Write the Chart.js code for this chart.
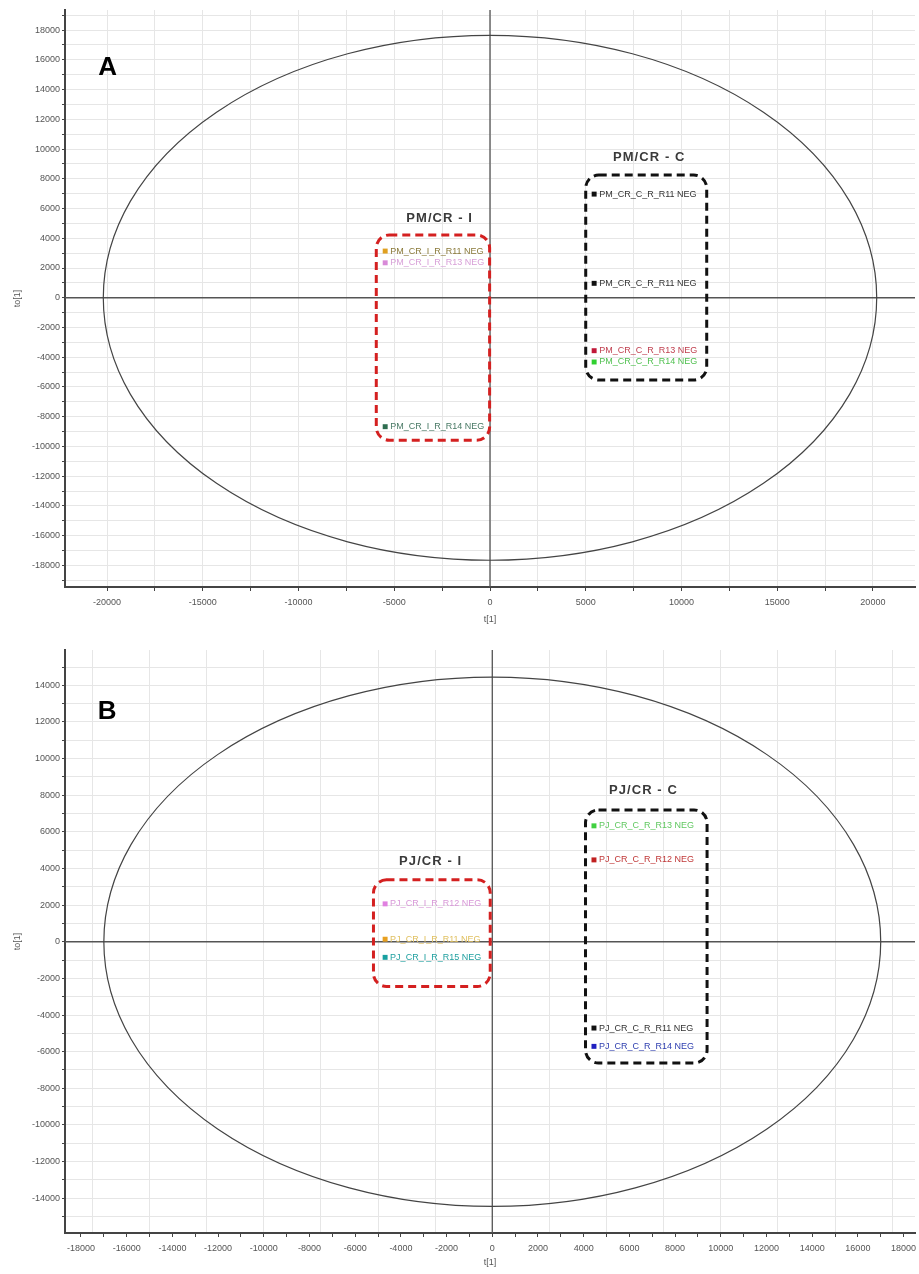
<!DOCTYPE html>
<html>
<head>
<meta charset="utf-8">
<title>OPLS-DA score plots</title>
<script src="https://cdn.jsdelivr.net/npm/chart.js@4.4.1/dist/chart.umd.min.js"></script>
<style>
body { margin: 0; background: #fff; }
canvas { position: absolute; left: 0; }
#chartA { top: 0; }
#chartB { top: 640px; }
</style>
</head>
<body>
<canvas id="chartA" width="919" height="630"></canvas>
<canvas id="chartB" width="919" height="634"></canvas>
<script>
const FONT = 'Arial, "Liberation Sans", sans-serif'

function steps(from, to, step) {
    const out = []
    for (let v = from; v <= to; v += step) out.push(v)
    return out
}

// panel A - PM/CR
const aNames = ['PM_CR_I_R_R11 NEG', 'PM_CR_I_R_R13 NEG', 'PM_CR_I_R_R14 NEG', 'PM_CR_C_R_R11 NEG', 'PM_CR_C_R_R11 NEG', 'PM_CR_C_R_R13 NEG', 'PM_CR_C_R_R14 NEG']
const aT = [-5475, -5475, -5475, 5440, 5440, 5440, 5440]
const aTo = [3140, 2350, -8670, 6970, 970, -3560, -4320]
const aXTicks = steps(-20000, 20000, 2500)
const aYTicks = steps(-19000, 19000, 1000)

// panel B - PJ/CR
const bNames = ['PJ_CR_I_R_R12 NEG', 'PJ_CR_I_R_R11 NEG', 'PJ_CR_I_R_R15 NEG', 'PJ_CR_C_R_R13 NEG', 'PJ_CR_C_R_R12 NEG', 'PJ_CR_C_R_R11 NEG', 'PJ_CR_C_R_R14 NEG']
const bT = [-4690, -4690, -4690, 4450, 4450, 4450, 4450]
const bTo = [2070, 140, -850, 6330, 4470, -4710, -5710]
const bXTicks = steps(-18500, 18500, 500)
const bYTicks = steps(-15000, 15000, 1000)

// Hotelling T2 ellipse half axes [t, to]
const aEllipse = [20200, 17650]
const bEllipse = [17000, 14450]

// group boxes [left, top, right, bottom] and their captions [text, t, to]
const aBoxes = [[-5940, 4220, -20, -9580], [5000, 8250, 11320, -5530]]
const aGroups = [['PM/CR - I', -2660, 5360], ['PM/CR - C', 8290, 9460]]
const bBoxes = [[-5200, 3380, -90, -2440], [4080, 7200, 9400, -6620]]
const bGroups = [['PJ/CR - I', -2720, 4380], ['PJ/CR - C', 6590, 8290]]

// styles
const aColors = ['#e0a020', '#d88ad8', '#2e6e50', '#111111', '#111111', '#c01838', '#30d030']
const aTextColors = ['#8a7a3a', '#d8a0d8', '#4a7a66', '#333333', '#333333', '#c04050', '#50c050']
const bColors = ['#e080e0', '#e8a020', '#18a0a0', '#40d040', '#c02020', '#111111', '#2020c0']
const bTextColors = ['#d898d8', '#e0c060', '#20a0a0', '#60c860', '#c03838', '#333333', '#3040b0']
const boxColors = ['#d42020', '#111111']

const pcaDecor = {
    id: 'pcaDecor',
    beforeDatasetsDraw(chart, args, opts) {
        const {ctx, chartArea, scales: {x, y}} = chart
        ctx.save()
        ctx.beginPath()
        ctx.rect(chartArea.left, chartArea.top, chartArea.width, chartArea.height)
        ctx.clip()
        const cx = x.getPixelForValue(0)
        const cy = y.getPixelForValue(0)
        // zero axes
        ctx.strokeStyle = '#555'
        ctx.lineWidth = 1.3
        ctx.beginPath()
        ctx.moveTo(cx, chartArea.top)
        ctx.lineTo(cx, chartArea.bottom)
        ctx.moveTo(chartArea.left, cy)
        ctx.lineTo(chartArea.right, cy)
        ctx.stroke()
        // ellipse
        const rx = x.getPixelForValue(opts.ellipse[0]) - cx
        const ry = cy - y.getPixelForValue(opts.ellipse[1])
        ctx.beginPath()
        ctx.ellipse(cx, cy, rx, ry, 0, 0, Math.PI * 2)
        ctx.strokeStyle = '#444'
        ctx.lineWidth = 1.2
        ctx.stroke()
        ctx.restore()
    },
    afterDatasetsDraw(chart, args, opts) {
        const {ctx, scales: {x, y}} = chart
        ctx.save()
        // dashed group boxes
        opts.boxes.forEach((b, i) => {
            const l = x.getPixelForValue(b[0]), t = y.getPixelForValue(b[1])
            const r = x.getPixelForValue(b[2]), bt = y.getPixelForValue(b[3])
            ctx.beginPath()
            ctx.roundRect(l, t, r - l, bt - t, 13)
            ctx.setLineDash([8, 5])
            ctx.lineWidth = 3
            ctx.strokeStyle = boxColors[i]
            ctx.stroke()
        })
        ctx.setLineDash([])
        // group captions
        ctx.font = 'bold 13px ' + FONT
        ctx.fillStyle = '#3a3a3a'
        ctx.textAlign = 'center'
        ctx.textBaseline = 'middle'
        opts.groups.forEach(g => {
            ctx.fillText(g[0].split('').join(String.fromCharCode(8202)), x.getPixelForValue(g[1]), y.getPixelForValue(g[2]))
        })
        // point labels
        ctx.font = '9px ' + FONT
        ctx.textAlign = 'left'
        const meta = chart.getDatasetMeta(0)
        meta.data.forEach((pt, i) => {
            ctx.fillStyle = opts.textColors[i]
            ctx.fillText(opts.names[i], pt.x + 5, pt.y)
        })
        // panel letter
        ctx.font = 'bold 26px ' + FONT
        ctx.fillStyle = '#000'
        ctx.textAlign = 'center'
        ctx.fillText(opts.letter[0], x.getPixelForValue(opts.letter[1]), y.getPixelForValue(opts.letter[2]))
        ctx.restore()
    }
}

const tickFont = {family: FONT, size: 9}
const clear = 'rgba(0,0,0,0)'

function makeChart(id, p) {
    return new Chart(document.getElementById(id), {
        type: 'scatter',
        data: {
            datasets: [{
                data: p.t.map((v, i) => ({x: v, y: p.to[i]})),
                pointStyle: 'rect',
                pointRadius: 3.5,
                pointBorderWidth: 0,
                pointBackgroundColor: p.colors
            }]
        },
        options: {
            responsive: false,
            animation: false,
            layout: {padding: {top: 10, right: 2, left: 0, bottom: 0}},
            plugins: {
                legend: {display: false},
                tooltip: {enabled: false},
                pcaDecor: p.decor
            },
            scales: {
                x: {
                    type: 'linear',
                    min: p.xMin,
                    max: p.xMax,
                    afterBuildTicks: s => { s.ticks = p.xTicks.map(v => ({value: v})) },
                    afterFit: s => { s.height = p.xHeight; s.paddingLeft = 0; s.paddingRight = 0 },
                    border: {color: '#444', width: 2},
                    grid: {
                        color: c => c.tick.value % p.xGrid === 0 ? '#e6e6e6' : clear,
                        tickColor: c => c.tick.value % p.xTick === 0 ? '#444' : clear,
                        tickLength: 4
                    },
                    ticks: {
                        autoSkip: false,
                        maxRotation: 0,
                        padding: 6,
                        font: tickFont,
                        color: '#555',
                        callback: v => v % p.xLabel === 0 ? String(v) : ''
                    },
                    title: {display: true, text: 't[1]', font: tickFont, color: '#555', padding: {top: 0, bottom: p.titlePad}}
                },
                y: {
                    type: 'linear',
                    min: p.yMin,
                    max: p.yMax,
                    afterBuildTicks: s => { s.ticks = p.yTicks.map(v => ({value: v})) },
                    afterFit: s => { s.width = 65; s.paddingTop = 0; s.paddingBottom = 0 },
                    border: {color: '#444', width: 2},
                    grid: {
                        color: '#e6e6e6',
                        tickColor: '#444',
                        tickLength: 3
                    },
                    ticks: {
                        autoSkip: false,
                        padding: 2,
                        font: tickFont,
                        color: '#555',
                        callback: v => v % 2000 === 0 ? String(v) : ''
                    },
                    title: {display: true, text: 'to[1]', font: tickFont, color: '#555', padding: {top: 12, bottom: 0}}
                }
            }
        },
        plugins: [pcaDecor]
    })
}

makeChart('chartA', {
    t: aT, to: aTo, colors: aColors, xTicks: aXTicks, yTicks: aYTicks,
    xMin: -22200, xMax: 22200, xGrid: 2500, xTick: 2500, xLabel: 5000,
    yMin: -19450, yMax: 19350, xHeight: 43, titlePad: 5,
    decor: {ellipse: aEllipse, boxes: aBoxes, groups: aGroups, names: aNames, textColors: aTextColors, letter: ['A', -19970, 15450]}
})

makeChart('chartB', {
    t: bT, to: bTo, colors: bColors, xTicks: bXTicks, yTicks: bYTicks,
    xMin: -18700, xMax: 18500, xGrid: 2500, xTick: 1000, xLabel: 2000,
    yMin: -15900, yMax: 15930, xHeight: 41, titlePad: 6,
    decor: {ellipse: bEllipse, boxes: bBoxes, groups: bGroups, names: bNames, textColors: bTextColors, letter: ['B', -16860, 12560]}
})
</script>
</body>
</html>
